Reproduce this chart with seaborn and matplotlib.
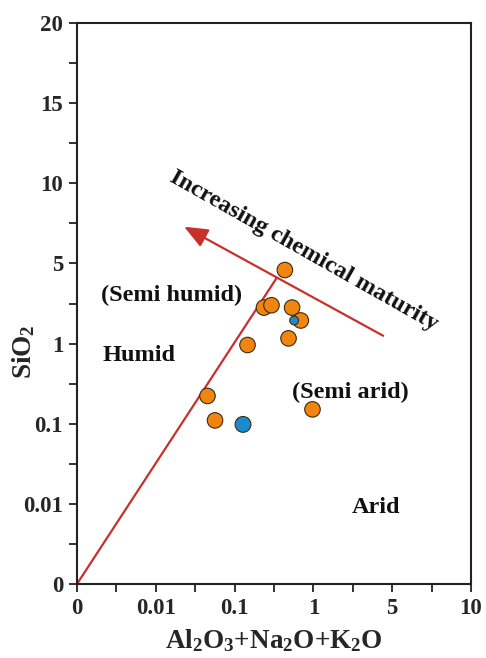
import matplotlib
matplotlib.use('Agg')
import matplotlib.pyplot as plt
import seaborn as sns
import numpy as np
import pandas as pd

# axis tick values (evenly spaced on the chart)
x_ticks = [0, 0.01, 0.1, 1, 5, 10]
y_ticks = [0, 0.01, 0.1, 1, 5, 10, 15, 20]

# samples
x_vals = [0.435, 0.236, 0.294, 0.537, 0.693, 0.146, 0.484, 0.0453, 0.0565, 0.975, 0.570, 0.128]
y_vals = [4.38, 2.06, 2.16, 2.06, 1.59, 0.96, 1.11, 0.222, 0.110, 0.151, 1.59, 0.098]
groups = ['A'] * 10 + ['B', 'C']

# reference lines
origin = (0, 0)
vertex = (0.340, 3.71)
arrow_tail = (4.16, 1.17)
arrow_tip = (0.0229, 6.87)


def make_scale(ticks):
    ticks = np.asarray(ticks, float)
    floor = ticks[1] / 10
    logt = np.log10(np.maximum(ticks, floor))
    idx = np.arange(len(ticks), dtype=float)

    def fwd(v):
        return np.interp(np.log10(np.maximum(np.asarray(v, float), floor)), logt, idx)

    def inv(p):
        return 10 ** np.interp(np.asarray(p, float), idx, logt)

    return fwd, inv


sns.set_theme(style="white")
plt.rcParams['font.family'] = ['Liberation Serif', 'DejaVu Serif']
plt.rcParams['font.weight'] = 'bold'
plt.rcParams['mathtext.default'] = 'regular'

df = pd.DataFrame({'x': x_vals, 'y': y_vals, 'group': groups})

fig = plt.figure(figsize=(4.86, 6.58), dpi=100)
ax = fig.add_axes([0.1584, 0.1125, 0.969 - 0.1584, 0.965 - 0.1125])

fx, ix = make_scale(x_ticks)
fy, iy = make_scale(y_ticks)
ax.set_xscale('function', functions=(fx, ix))
ax.set_yscale('function', functions=(fy, iy))
ax.set_xlim(0, 10)
ax.set_ylim(0, 20)

red = '#c8312b'
ax.plot([origin[0], vertex[0]], [origin[1], vertex[1]], color=red, lw=1.6, zorder=2)
ax.annotate('', xy=arrow_tip, xytext=arrow_tail,
            arrowprops=dict(arrowstyle='-|>,head_length=1.2,head_width=0.5',
                            color=red, lw=1.6, shrinkA=0, shrinkB=0), zorder=2)

sns.scatterplot(data=df, x='x', y='y', hue='group', size='group',
                palette={'A': '#f0860f', 'B': '#1b8ccb', 'C': '#1b8ccb'},
                sizes={'A': 125, 'B': 40, 'C': 130},
                edgecolor='#3b2a12', linewidth=0.8, legend=False, ax=ax, zorder=3)

# ticks
ax.xaxis.set_major_locator(matplotlib.ticker.FixedLocator(x_ticks))
ax.xaxis.set_major_formatter(matplotlib.ticker.FixedFormatter([f'{t:g}' for t in x_ticks]))
ax.xaxis.set_minor_locator(matplotlib.ticker.FixedLocator(ix(np.arange(0.5, len(x_ticks) - 1, 1))))
ax.yaxis.set_major_locator(matplotlib.ticker.FixedLocator(y_ticks))
ax.yaxis.set_major_formatter(matplotlib.ticker.FixedFormatter([f'{t:g}' for t in y_ticks]))
ax.yaxis.set_minor_locator(matplotlib.ticker.FixedLocator(iy(np.arange(0.5, len(y_ticks) - 1, 1))))
ax.tick_params(which='both', direction='out', length=6, width=1.3, color='#222222',
               bottom=True, left=True, top=False, right=False)
ax.tick_params(which='major', labelsize=16.5, pad=4)
for lab in ax.get_xticklabels() + ax.get_yticklabels():
    lab.set_fontweight('bold')
for s in ax.spines.values():
    s.set_color('#222222')
    s.set_linewidth(1.5)

ax.set_xlabel('Al$_2$O$_3$+Na$_2$O+K$_2$O', fontsize=19.5, fontweight='bold', labelpad=6)
ax.set_ylabel('SiO$_2$', fontsize=19.5, fontweight='bold')
ax.yaxis.set_label_coords(-0.10, 0.414)

txt = dict(fontsize=17.5, fontweight='bold', color='#111111', transform=ax.transAxes)
ax.text(0.061, 0.515, '(Semi humid)', ha='left', va='center', **txt)
ax.text(0.065, 0.407, 'Humid', ha='left', va='center', **txt)
ax.text(0.546, 0.341, '(Semi arid)', ha='left', va='center', **txt)
ax.text(0.698, 0.136, 'Arid', ha='left', va='center', **txt)
ax.text(0.575, 0.594, 'Increasing chemical maturity', ha='center', va='center',
        rotation=-29.5, rotation_mode='anchor', fontsize=17.5, fontweight='bold',
        color='#111111', transform=ax.transAxes)

fig.savefig('out.png', dpi=100)
